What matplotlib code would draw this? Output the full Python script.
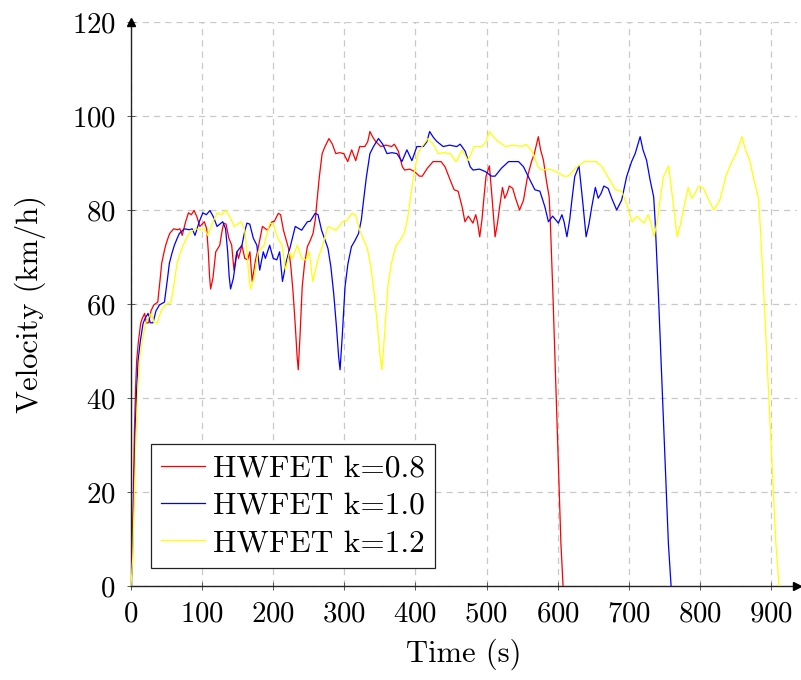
import numpy as np
import matplotlib
matplotlib.use("Agg")
import matplotlib.pyplot as plt

# Base HWFET profile (k = 1.0)
base_time = [0, 2, 4, 6, 8, 10, 13, 17, 20, 24, 27, 31, 35, 40, 47, 51, 54, 58, 61, 65,
             68, 75, 82, 86, 90, 96, 101, 106, 111, 116, 121, 125, 129, 133, 136, 138, 140,
             144, 149, 156, 160, 163, 167, 172, 177, 181, 186, 189, 195, 200, 205, 209, 213,
             219, 224, 231, 240, 248, 252, 259, 263, 268, 277, 281, 285, 289, 292, 294, 297,
             301, 305, 310, 315, 320, 324, 327, 331, 336, 341, 348, 354, 360, 367, 374, 381,
             388, 395, 402, 411, 416, 420, 425, 430, 439, 448, 458, 463, 470, 477, 481, 490,
             498, 507, 512, 521, 531, 545, 552, 561, 568, 575, 582, 587, 593, 601, 606, 609,
             613, 617, 620, 624, 630, 635, 640, 644, 648, 653, 657, 661, 665, 671, 676, 683,
             690, 697, 704, 709, 716, 720, 725, 730, 735, 737, 741.6, 746.3, 751, 755.7, 759.5]
base_velocity = [0, 6, 20, 33, 42, 48, 52, 55.9, 57, 58, 56, 56, 58.5, 59.8, 60.4, 65, 68.7,
                 71, 72.5, 74, 75, 76, 75.8, 76, 74.6, 77.5, 79.4, 79, 79.9, 78.5, 76.5, 77,
                 77.5, 76, 71, 66, 63.2, 65.5, 71.1, 72.5, 75.5, 77.2, 77, 74, 72.5, 67.2, 71.1,
                 69.7, 72.5, 69.7, 69.4, 71.1, 64.8, 69.4, 72.2, 76.5, 75.7, 77.5, 77.6, 79.3,
                 79, 75.7, 71.8, 68, 62.3, 55, 48.8, 46, 53, 63.7, 68.5, 72.2, 73.5, 75, 78, 82,
                 87, 92, 93.5, 95.2, 94, 92, 92.2, 92, 90.3, 92.8, 90.5, 93.5, 93.5, 94.5, 96.7,
                 95.5, 94.6, 93.5, 93.8, 93.5, 94, 92.5, 89.2, 88.5, 88.7, 88.2, 87.2, 87.2,
                 88.9, 90.3, 90.3, 89.2, 86.4, 84.3, 84, 80.7, 77.5, 78.7, 77.2, 79, 77.5, 74.3,
                 78, 82.1, 87.1, 89.4, 82.1, 74.3, 77, 80.7, 84.8, 82.5, 83.5, 85.1, 84.6, 82.5,
                 80, 82.1, 87.1, 90.3, 92, 95.6, 92.8, 90.6, 86.4, 82.8, 77.9, 62.3, 44.5, 26.8,
                 9.1, 0]

k_values = [0.8, 1.0, 1.2]
labels = ["HWFET k=0.8", "HWFET k=1.0", "HWFET k=1.2"]
colors = ["#ff0000", "#0000ff", "#ffff00"]

x_ticks = [0, 100, 200, 300, 400, 500, 600, 700, 800, 900]
y_ticks = [0, 20, 40, 60, 80, 100, 120]

plt.rcParams['font.family'] = 'serif'
plt.rcParams['font.serif'] = ['cmr10', 'DejaVu Serif']
plt.rcParams['mathtext.fontset'] = 'cm'
plt.rcParams['axes.formatter.use_mathtext'] = True

fig = plt.figure(figsize=(8.01, 6.80), dpi=100)
ax = fig.add_axes([131/801, 1-586/680, (797-131)/801, (586-22)/680])

bt = np.array(base_time)
bv = np.array(base_velocity)
for k, lab, c in zip(k_values, labels, colors):
    ax.plot(bt * k, bv, color=c, lw=0.9, label=lab, zorder=3)

ax.set_xlim(0, (797-131)/0.7111)
ax.set_ylim(0, 120)
ax.set_xticks(x_ticks)
ax.set_yticks(y_ticks)
ax.grid(True, color='#c8c8c8', linestyle=(0, (5, 4)), linewidth=0.9, zorder=0)
ax.set_axisbelow(True)
for s in ['top', 'right']:
    ax.spines[s].set_visible(False)
for s in ['left', 'bottom']:
    ax.spines[s].set_linewidth(1.0)
    ax.spines[s].set_color('#222222')
ax.tick_params(axis='both', direction='inout', length=6, width=0.7, colors='#555555',
               labelsize=20.8, labelcolor='black', pad=8)

# arrowheads
ax.plot(1, 0, marker='>', color='black', markersize=6, transform=ax.transAxes, clip_on=False, zorder=5)
ax.plot(0, 1, marker='^', color='black', markersize=6, transform=ax.transAxes, clip_on=False, zorder=5)

ax.set_xlabel('Time (s)', fontsize=22, labelpad=8)
ax.set_ylabel('Velocity (km/h)', fontsize=22, labelpad=18.5)

leg = ax.legend(loc='lower left', bbox_to_anchor=(0.0296, 0.0324), borderaxespad=0,
                fontsize=22.6, frameon=True, fancybox=False, framealpha=1,
                handlelength=1.4, handletextpad=0.25, labelspacing=0.30, borderpad=0.33)
leg.get_frame().set_edgecolor('#222222')
leg.get_frame().set_linewidth(0.9)

fig.savefig('out.png', dpi=100)
